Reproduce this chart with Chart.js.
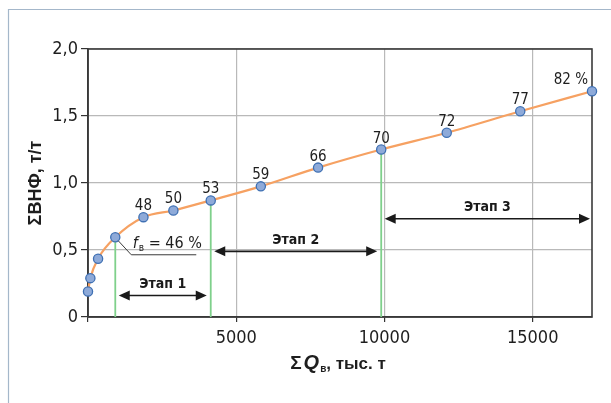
<!DOCTYPE html>
<html>
<head>
<meta charset="utf-8">
<script src="https://cdn.jsdelivr.net/npm/chart.js@4.4.1/dist/chart.umd.min.js"></script>
<style>
html, body { margin: 0; background: #fff; }
canvas { display: block; }
</style>
</head>
<body>
<canvas id="chartVnf" width="611" height="403"></canvas>
<script>
// cumulative water production (thousand t) vs cumulative WOR
const sumQ = [0, 80, 340, 920, 1870, 2880, 4140, 5830, 7760, 9890, 12100, 14580, 17000];
const sumVnf = [0.19, 0.29, 0.435, 0.595, 0.745, 0.795, 0.87, 0.975, 1.115, 1.25, 1.375, 1.535, 1.685];
const recovery = ['', '', '', '46', '48', '50', '53', '59', '66', '70', '72', '77', '82 %'];

// stages: index of the start / end point and arrow level (t/t)
const stageNames = ['Этап 1', 'Этап 2', 'Этап 3'];
const stageFrom = [3, 6, 9];
const stageTo = [6, 9, 12];
const stageLevel = [0.16, 0.49, 0.733];
const markedPoints = [3, 6, 9];

const xTicks = [0, 5000, 10000, 15000];
const xTickLabels = ['', '5000', '10000', '15000'];
const yTicks = [0, 0.5, 1, 1.5, 2];
const yTickLabels = ['0', '0,5', '1,0', '1,5', '2,0'];

const narrow = '"Liberation Sans Narrow", "Arial Narrow", "DejaVu Sans Condensed", sans-serif';
const wide = '"Liberation Sans", Arial, sans-serif';
const textColor = '#1e1e1e';

Chart.defaults.font.family = narrow;
Chart.defaults.color = textColor;

const pageFrame = {
    id: 'pageFrame',
    beforeDraw(chart) {
        const ctx = chart.ctx;
        ctx.save();
        ctx.fillStyle = '#fff';
        ctx.fillRect(0, 0, chart.width, chart.height);
        ctx.strokeStyle = '#a4b7ca';
        ctx.lineWidth = 1.2;
        ctx.beginPath();
        ctx.moveTo(8.5, chart.height);
        ctx.lineTo(8.5, 9.5);
        ctx.lineTo(chart.width, 9.5);
        ctx.stroke();
        ctx.restore();
    }
};

const plotExtras = {
    id: 'plotExtras',
    beforeDatasetsDraw(chart) {
        const ctx = chart.ctx;
        const area = chart.chartArea;
        const x = chart.scales.x;
        const y = chart.scales.y;
        ctx.save();
        // frame of the plot
        ctx.strokeStyle = '#3a3a3a';
        ctx.lineWidth = 1.6;
        ctx.strokeRect(area.left, area.top, area.right - area.left, area.bottom - area.top);
        // green drop lines
        ctx.strokeStyle = '#7fd08b';
        ctx.lineWidth = 1.8;
        markedPoints.forEach(i => {
            const px = x.getPixelForValue(sumQ[i]);
            ctx.beginPath();
            ctx.moveTo(px, y.getPixelForValue(sumVnf[i]));
            ctx.lineTo(px, area.bottom);
            ctx.stroke();
        });
        ctx.restore();
    },
    afterDatasetsDraw(chart) {
        const ctx = chart.ctx;
        const x = chart.scales.x;
        const y = chart.scales.y;
        ctx.save();

        // point labels
        ctx.fillStyle = textColor;
        ctx.font = '15px ' + narrow;
        ctx.textBaseline = 'alphabetic';
        recovery.forEach((lab, i) => {
            if (!lab || i === 3) return;
            const px = x.getPixelForValue(sumQ[i]);
            const py = y.getPixelForValue(sumVnf[i]);
            if (i === recovery.length - 1) {
                ctx.textAlign = 'right';
                ctx.fillText(lab, px - 4, py - 7);
            } else {
                ctx.textAlign = 'center';
                ctx.fillText(lab, px, py - 7);
            }
        });

        // f_в = 46 % callout
        const fx = x.getPixelForValue(sumQ[3]);
        const fy = y.getPixelForValue(sumVnf[3]);
        ctx.strokeStyle = '#3a3a3a';
        ctx.lineWidth = 1;
        ctx.beginPath();
        ctx.moveTo(fx + 3, fy + 3.5);
        ctx.lineTo(fx + 16, fy + 17.5);
        ctx.lineTo(fx + 81, fy + 17.5);
        ctx.stroke();
        ctx.textAlign = 'left';
        let tx = fx + 17.5;
        const by = fy + 10.5;
        ctx.font = 'italic 16px ' + narrow;
        ctx.fillText('f', tx, by);
        tx += ctx.measureText('f').width + 1;
        ctx.font = '10px ' + narrow;
        ctx.fillText('в', tx, by + 3);
        tx += ctx.measureText('в').width;
        ctx.font = '16px ' + narrow;
        ctx.fillText(' = ' + recovery[3] + ' %', tx, by);

        // stage arrows
        ctx.strokeStyle = '#1a1a1a';
        ctx.fillStyle = '#1a1a1a';
        ctx.lineWidth = 1.6;
        stageNames.forEach((name, i) => {
            const x1 = x.getPixelForValue(sumQ[stageFrom[i]]) + 3.5;
            const x2 = x.getPixelForValue(sumQ[stageTo[i]]) - (i === 2 ? 2 : 4);
            const ay = y.getPixelForValue(stageLevel[i]);
            ctx.beginPath();
            ctx.moveTo(x1 + 6, ay);
            ctx.lineTo(x2 - 6, ay);
            ctx.stroke();
            ctx.beginPath();
            ctx.moveTo(x1, ay);
            ctx.lineTo(x1 + 11, ay - 5);
            ctx.lineTo(x1 + 11, ay + 5);
            ctx.closePath();
            ctx.fill();
            ctx.beginPath();
            ctx.moveTo(x2, ay);
            ctx.lineTo(x2 - 11, ay - 5);
            ctx.lineTo(x2 - 11, ay + 5);
            ctx.closePath();
            ctx.fill();
            ctx.font = 'bold 14px ' + narrow;
            ctx.textAlign = 'center';
            ctx.fillText(name, (x1 + x2) / 2, ay - 7.5);
        });

        // axis titles
        ctx.fillStyle = textColor;
        ctx.save();
        ctx.translate(36, 183);
        ctx.rotate(-Math.PI / 2);
        ctx.font = 'bold 18px ' + wide;
        ctx.textAlign = 'center';
        ctx.textBaseline = 'middle';
        ctx.fillText('ΣВНФ, т/т', 0, 0);
        ctx.restore();

        const parts = [
            { t: 'Σ', f: 'bold 19px ' + wide, dy: 0, gap: 2 },
            { t: 'Q', f: 'italic bold 20px ' + wide, dy: 0, gap: 1 },
            { t: 'в', f: 'bold 10px ' + wide, dy: 3, gap: 0 },
            { t: ', тыс. т', f: 'bold 17px ' + wide, dy: 0, gap: 0 }
        ];
        let total = 0;
        parts.forEach(p => { ctx.font = p.f; p.w = ctx.measureText(p.t).width; total += p.w + p.gap; });
        let px = 338 - total / 2;
        ctx.textAlign = 'left';
        ctx.textBaseline = 'alphabetic';
        parts.forEach(p => {
            ctx.font = p.f;
            ctx.fillText(p.t, px, 369 + p.dy);
            px += p.w + p.gap;
        });
        ctx.restore();
    }
};

new Chart(document.getElementById('chartVnf'), {
    type: 'line',
    data: {
        datasets: [{
            data: sumQ.map((q, i) => ({ x: q, y: sumVnf[i] })),
            borderColor: '#f6a162',
            borderWidth: 2.2,
            cubicInterpolationMode: 'monotone',
            pointRadius: 4.6,
            pointBorderWidth: 1.3,
            pointBackgroundColor: '#8eaad9',
            pointBorderColor: '#3f70b3',
            clip: false
        }]
    },
    options: {
        responsive: false,
        animation: false,
        layout: {
            padding: { top: 49, right: 19, left: 0, bottom: 0 }
        },
        plugins: {
            legend: { display: false },
            tooltip: { enabled: false }
        },
        scales: {
            x: {
                type: 'linear',
                min: 0,
                max: 17000,
                afterBuildTicks: s => { s.ticks = xTicks.map(v => ({ value: v })); },
                afterFit: s => { s.height = 86; },
                ticks: {
                    callback: v => xTickLabels[xTicks.indexOf(v)],
                    autoSkip: false,
                    maxRotation: 0,
                    padding: 6,
                    color: textColor,
                    font: { size: 18 }
                },
                grid: {
                    color: '#b9b9b9',
                    lineWidth: 1.2,
                    tickLength: 5,
                    tickColor: '#333'
                },
                border: { color: '#333', width: 1.6 }
            },
            y: {
                min: 0,
                max: 2,
                afterBuildTicks: s => { s.ticks = yTicks.map(v => ({ value: v })); },
                afterFit: s => { s.width = 88; },
                ticks: {
                    callback: v => yTickLabels[yTicks.indexOf(v)],
                    padding: 3,
                    color: textColor,
                    font: { size: 18 }
                },
                grid: {
                    color: '#b9b9b9',
                    lineWidth: 1.2,
                    tickLength: 7,
                    tickColor: '#333'
                },
                border: { color: '#333', width: 1.6 }
            }
        }
    },
    plugins: [pageFrame, plotExtras]
});
</script>
</body>
</html>
